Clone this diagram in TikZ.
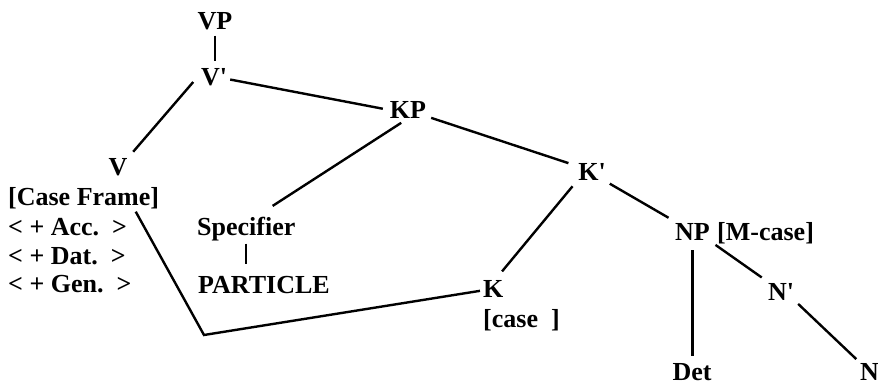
\documentclass[tikz,border=0pt]{standalone}
\usepackage{fontspec}
\setmainfont{Liberation Serif}
\newcommand{\prm}{\textquotesingle}
\begin{document}
\begin{tikzpicture}[x=1pt,y=-1pt,
  lbl/.style={inner sep=3pt, font=\fontsize{26}{30}\selectfont\bfseries},
  edge/.style={line width=2.4pt}]
\useasboundingbox (0,0) rectangle (878,388);

% tree labels
\node[lbl,anchor=base] (vp)   at (215,29)  {VP};
\node[lbl,anchor=base] (v1)   at (214,85)  {V\prm};
\node[lbl,anchor=base] (v)    at (118,175) {V};
\node[lbl,anchor=base] (kp)   at (408,118) {KP};
\node[lbl,anchor=base] (kbar) at (592,180) {K\prm};
\node[lbl,anchor=base west] (caseframe) at (5,205) {[Case Frame]};
\node[lbl,anchor=base west] (acc) at (5,235) {<~+~Acc.~~>};
\node[lbl,anchor=base west] (dat) at (5,264) {<~+~Dat.~~>};
\node[lbl,anchor=base west] (gen) at (5,292) {<~+~Gen.~~>};
\node[lbl,anchor=base west] (spec) at (194,235) {Specifier};
\node[lbl,anchor=base west] (part) at (195,293) {PARTICLE};
\node[lbl,anchor=base west] (k)     at (480,297) {K};
\node[lbl,anchor=base west] (kcase) at (480,327) {[case\hspace{13pt}]};
\node[lbl,anchor=base west] (np)    at (672,240) {NP};
\node[lbl,anchor=base west] (mcase) at (714,240) {[M-case]};
\node[lbl,anchor=base west] (nbar)  at (765,300) {N\prm};
\node[lbl,anchor=base] (det) at (692,380) {Det};
\node[lbl,anchor=base west] (n) at (857,380) {N};

% branches
\draw[edge,shorten <=3pt,shorten >=4pt] (vp.south) -- (vp.south |- v1.north);
\draw[edge,shorten <=7pt,shorten >=4pt] (v1.west) -- (v.north east);
\draw[edge,shorten >=4pt] (v1.-10) -- (kp.west);
\draw[edge,shorten <=2pt,shorten >=7pt] (kp.-20) -- (kbar.160);
\draw[edge,shorten <=3pt,shorten >=14pt] (kp.250) -- (spec.46);
\draw[edge,shorten >=9pt] (spec.south) -- (spec.south |- part.north);
\draw[edge,shorten <=4pt,shorten >=7pt] (kbar.south west) -- (k.70);
\draw[edge,shorten <=1pt,shorten >=4pt] (kbar.south east) -- (np.north west);
\draw[edge,shorten <=7pt,shorten >=4pt] (np.south) -- (np.south |- det.north);
\draw[edge,shorten <=3pt,shorten >=4pt] (np.south east) -- (nbar.north west);
\draw[edge,shorten <=1pt,shorten >=1pt] (nbar.south east) -- (n.north west);

% case link from the case frame to K
\coordinate (turn) at (204,335);
\draw[edge,line join=miter] (caseframe.-15) -- (turn) -- (k.190);
\end{tikzpicture}
\end{document}
